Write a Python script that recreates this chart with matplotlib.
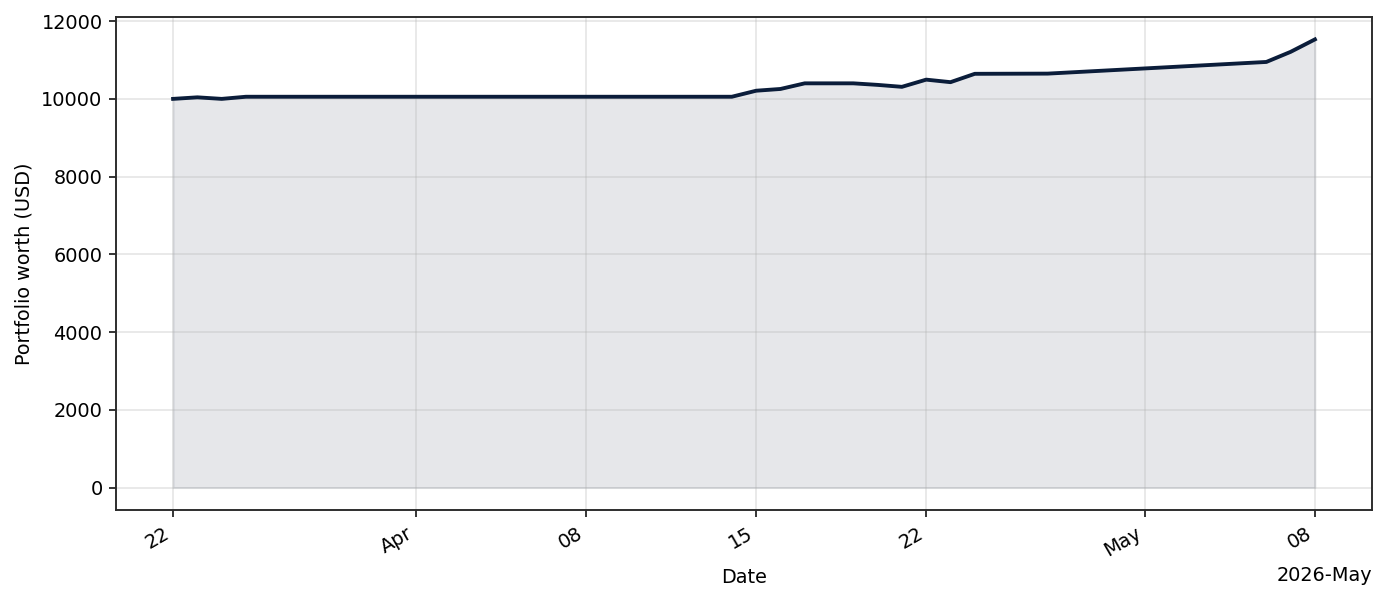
import matplotlib
matplotlib.use("Agg")
import matplotlib.pyplot as plt
import matplotlib.dates as mdates
import numpy as np

# portfolio value
dates = [
    "2026-03-22", "2026-03-23", "2026-03-24", "2026-03-25", "2026-04-14",
    "2026-04-15", "2026-04-16", "2026-04-17", "2026-04-19", "2026-04-20",
    "2026-04-21", "2026-04-22", "2026-04-23", "2026-04-24", "2026-04-27",
    "2026-05-06", "2026-05-07", "2026-05-08",
]
worth = [
    10000, 10040, 10000, 10055, 10055,
    10210, 10255, 10400, 10400, 10360,
    10310, 10495, 10430, 10645, 10650,
    10950, 11210, 11530,
]

LINE_COLOR = "#0b1d3a"

x = np.array(dates, dtype="datetime64[D]")
y = np.array(worth, dtype=float)

dpi = 138.6
fig = plt.figure(figsize=(1386 / dpi, 601 / dpi), dpi=dpi)
ax = fig.add_axes([116 / 1386, 1 - 510 / 601, (1372 - 116) / 1386, (510 - 17) / 601])

ax.fill_between(x, y, 0, color=LINE_COLOR, alpha=0.1)
ax.plot(x, y, color=LINE_COLOR, linewidth=2)

locator = mdates.AutoDateLocator()
ax.xaxis.set_major_locator(locator)
ax.xaxis.set_major_formatter(mdates.ConciseDateFormatter(locator))

ax.set_xlabel("Date")
ax.set_ylabel("Portfolio worth (USD)")
ax.grid(True, color="#b0b0b0", alpha=0.35, linewidth=0.8)
for spine in ax.spines.values():
    spine.set_color("#2b2b2b")
    spine.set_linewidth(1.0)

for label in ax.get_xticklabels():
    label.set_rotation(30)
    label.set_ha("right")

fig.savefig("out.png", dpi=dpi)
